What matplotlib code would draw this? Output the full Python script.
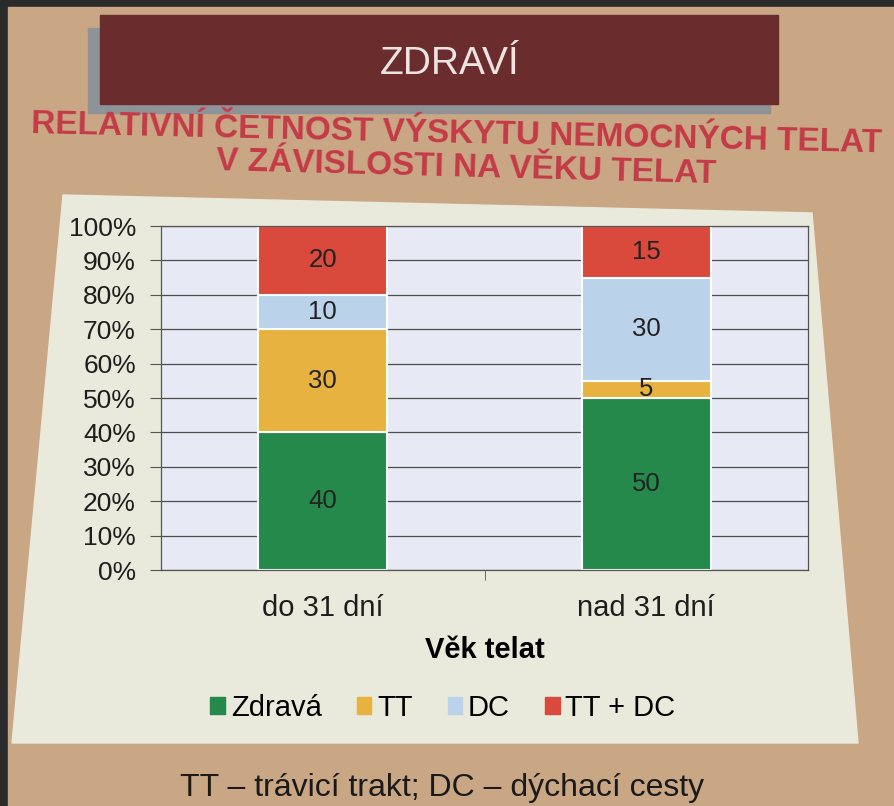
import matplotlib.pyplot as plt
import numpy as np
from matplotlib.patches import Patch, Polygon, Rectangle

plt.rcParams['font.family'] = ['Liberation Sans', 'DejaVu Sans']

categories = ['do 31 dní', 'nad 31 dní']
series = ['Zdravá', 'TT', 'DC', 'TT + DC']
zdrava = [40, 50]
tt = [30, 5]
dc = [10, 30]
tt_dc = [20, 15]
y_ticks = [0, 10, 20, 30, 40, 50, 60, 70, 80, 90, 100]

colors = ['#24894a', '#e7b23f', '#bad3ea', '#d9493c']

W, H = 894, 806


def fx(x):
    return x / W


def fy(y):
    return 1 - y / H


fig = plt.figure(figsize=(W / 100, H / 100), dpi=100)
fig.patch.set_facecolor('#2b2b2b')

# poster background, banner and chart panel
fig.add_artist(Rectangle((fx(8), 0), 1, fy(7), transform=fig.transFigure,
                         color='#c9a684', zorder=-10))
fig.add_artist(Rectangle((fx(88), fy(113)), fx(770 - 88), (113 - 28) / H,
                         transform=fig.transFigure, color='#8d9396', zorder=-9))
fig.add_artist(Rectangle((fx(100), fy(104)), fx(778 - 100), (104 - 15) / H,
                         transform=fig.transFigure, color='#6b2c2e', zorder=-8))
panel = [(fx(63), fy(195)), (fx(812), fy(213)), (fx(858), fy(743)), (fx(12), fy(743))]
fig.add_artist(Polygon(panel, closed=True, transform=fig.transFigure,
                       color='#e9e9dc', zorder=-7))

fig.text(fx(450), fy(64), 'ZDRAVÍ', color='#ece4e0', fontsize=28,
         ha='center', va='center')
fig.text(fx(457), fy(134), 'RELATIVNÍ ČETNOST VÝSKYTU NEMOCNÝCH TELAT',
         color='#c43b48', fontsize=24, fontweight='bold', ha='center', va='center',
         rotation=-1.3)
fig.text(fx(466), fy(168), 'V ZÁVISLOSTI NA VĚKU TELAT',
         color='#c43b48', fontsize=24, fontweight='bold', ha='center', va='center',
         rotation=-1.5)

ax = fig.add_axes([fx(161), fy(570), fx(808 - 161), (570 - 226) / H])
ax.set_facecolor('#e7eaf4')

x = np.arange(len(categories))
bottom = np.zeros(len(categories))
for name, vals, c in zip(series, [zdrava, tt, dc, tt_dc], colors):
    bars = ax.bar(x, vals, 0.4, bottom=bottom, color=c, edgecolor='white',
                  linewidth=1.5, label=name, zorder=2)
    ax.bar_label(bars, label_type='center', fontsize=18.5, color='#222222')
    bottom += np.array(vals)

ax.set_xlim(-0.5, 1.5)
ax.set_ylim(0, 100)
ax.set_yticks(y_ticks)
ax.set_yticklabels([f'{t}%' for t in y_ticks], fontsize=19, color='#1e1e1e')
ax.set_xticks(x)
ax.set_xticklabels(categories, fontsize=21, color='#1e1e1e')
ax.set_xticks([0.5], minor=True)
ax.tick_params(axis='x', which='major', length=0, pad=17)
ax.tick_params(axis='x', which='minor', length=7, color='#555555')
ax.tick_params(axis='y', length=8, color='#555555', pad=10)
ax.yaxis.grid(True, color='#4d4d4d', linewidth=0.9)
ax.set_axisbelow(True)
for s in ax.spines.values():
    s.set_color('#555555')
    s.set_linewidth(0.9)

ax.set_xlabel('Věk telat', fontsize=21, fontweight='bold', labelpad=10)

handles = [Patch(color=c, label=n) for n, c in zip(series, colors)]
fig.legend(handles=handles, loc='center', bbox_to_anchor=(fx(443), fy(708)),
           ncol=4, frameon=False, fontsize=21, handlelength=0.5, handleheight=0.5,
           handletextpad=0.2, columnspacing=1.2)

fig.text(fx(442), fy(788), 'TT – trávicí trakt; DC – dýchací cesty',
         fontsize=23, color='#1a1a1a', ha='center', va='center')

plt.savefig('out.png', dpi=100, facecolor=fig.get_facecolor())
